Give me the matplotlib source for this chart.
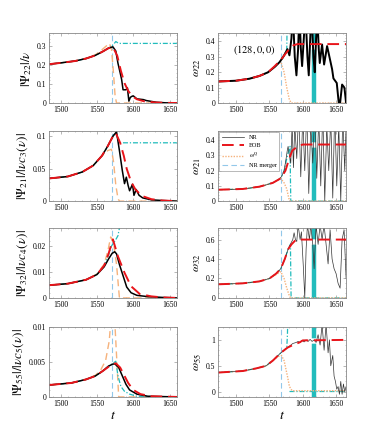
#EOB vs NR waveforms, (128,0,0) configuration
import numpy as np
import matplotlib.pyplot as plt

plt.rcParams['font.family'] = ['Liberation Serif', 'DejaVu Serif']
plt.rcParams['mathtext.fontset'] = 'stix'

#Colours
c_nr = 'black'
c_eob = '#e8141a'
c_q = '#f6b27c'
c_cy = '#22bcbc'
c_mrg = '#92c8ea'

t_merger_left = 1571
t_merger_right = 1567
t_bar = 1616.5

#---------------- |Psi_22|/nu
t_a22_nr = [1484, 1500, 1520, 1535, 1548, 1558, 1566, 1572, 1576, 1579, 1582, 1584, 1586, 1590, 1592, 1594, 1596, 1598, 1600, 1605, 1614, 1618, 1632, 1645, 1660]
a22_nr = [0.205, 0.212, 0.222, 0.235, 0.252, 0.272, 0.29, 0.297, 0.275, 0.21, 0.16, 0.125, 0.07, 0.07, 0.08, 0.01, 0.03, 0.035, 0.038, 0.022, 0.018, 0.013, 0.004, 0.001, 0.0]
t_a22_eob = [1484, 1500, 1520, 1535, 1548, 1558, 1566, 1572, 1578, 1583, 1588, 1593, 1598, 1605, 1615, 1630, 1645, 1660]
a22_eob = [0.205, 0.212, 0.222, 0.235, 0.252, 0.272, 0.29, 0.296, 0.25, 0.17, 0.105, 0.065, 0.038, 0.02, 0.009, 0.003, 0.001, 0.0]
t_a22_q = [1484, 1500, 1520, 1535, 1548, 1558, 1564, 1567, 1570, 1573, 1575, 1577, 1580, 1660]
a22_q = [0.205, 0.212, 0.222, 0.236, 0.255, 0.285, 0.305, 0.315, 0.29, 0.15, 0.04, 0.0, 0.0, 0.0]
t_a22_cy = [1484, 1500, 1520, 1535, 1548, 1558, 1566, 1570, 1573, 1576, 1580, 1600, 1660]
a22_cy = [0.205, 0.212, 0.222, 0.235, 0.252, 0.272, 0.29, 0.3, 0.31, 0.325, 0.315, 0.315, 0.315]

#---------------- omega_22
t_w22_nr = [1473, 1500, 1520, 1535, 1548, 1558, 1565, 1570, 1574, 1577, 1580, 1583, 1585, 1588, 1590.5, 1593, 1595, 1597, 1599, 1602, 1604, 1607, 1609, 1611, 1613, 1616, 1618, 1620, 1622, 1624, 1625.5, 1629, 1632, 1636.5, 1641.5, 1644, 1646, 1651, 1654, 1656, 1659, 1662.5, 1665]
w22_nr = [0.14, 0.145, 0.158, 0.176, 0.2, 0.235, 0.265, 0.295, 0.325, 0.35, 0.31, 0.42, 0.6, 0.3, 0.18, 0.35, 0.6, 0.36, 0.24, 0.45, 0.6, 0.3, 0.18, 0.4, 0.6, 0.3, 0.2, 0.42, 0.55, 0.35, 0.26, 0.38, 0.25, 0.37, 0.27, 0.22, 0.16, 0.13, 0.0, 0.0, 0.12, 0.1, 0.0]
t_w22_eob = [1473, 1500, 1520, 1535, 1548, 1558, 1567, 1574, 1580, 1586, 1592, 1665]
w22_eob = [0.14, 0.145, 0.158, 0.176, 0.2, 0.24, 0.28, 0.32, 0.352, 0.375, 0.383, 0.383]
t_w22_q = [1473, 1500, 1520, 1535, 1548, 1558, 1567, 1572, 1576, 1580, 1583, 1665]
w22_q = [0.14, 0.145, 0.158, 0.176, 0.2, 0.235, 0.27, 0.2, 0.1, 0.02, 0.0, 0.0]
t_w22_cy = [1473, 1500, 1520, 1535, 1548, 1558, 1567, 1572, 1576, 1576.5, 1577]
w22_cy = [0.14, 0.145, 0.158, 0.176, 0.2, 0.235, 0.275, 0.31, 0.35, 0.5, 0.6]

#---------------- |Psi_21|/|nu c_3|
t_a21_nr = [1484, 1510, 1530, 1545, 1557, 1565, 1572, 1577, 1581, 1585, 1588, 1590.5, 1593, 1595, 1599, 1601, 1604, 1608, 1613, 1625, 1640, 1660]
a21_nr = [0.035, 0.038, 0.045, 0.055, 0.07, 0.085, 0.1, 0.107, 0.078, 0.047, 0.027, 0.037, 0.024, 0.016, 0.026, 0.009, 0.018, 0.009, 0.005, 0.002, 0.001, 0.0]
t_a21_eob = [1484, 1510, 1530, 1545, 1557, 1565, 1572, 1576, 1582, 1587, 1591, 1597, 1603, 1612, 1625, 1640, 1660]
a21_eob = [0.035, 0.038, 0.045, 0.055, 0.07, 0.085, 0.1, 0.105, 0.09, 0.07, 0.05, 0.03, 0.018, 0.008, 0.003, 0.001, 0.0]
t_a21_q = [1484, 1510, 1530, 1545, 1557, 1565, 1570, 1573, 1576, 1579, 1581, 1660]
a21_q = [0.035, 0.038, 0.045, 0.055, 0.07, 0.078, 0.08, 0.06, 0.025, 0.004, 0.0, 0.0]
t_a21_cy = [1484, 1510, 1530, 1545, 1557, 1565, 1572, 1575, 1579, 1582, 1600, 1660]
a21_cy = [0.035, 0.038, 0.045, 0.055, 0.07, 0.085, 0.1, 0.105, 0.097, 0.09, 0.09, 0.09]

#---------------- omega_21
t_w21_nr = [1473, 1500, 1520, 1540, 1555, 1563, 1568, 1572, 1575, 1577, 1578, 1580, 1582, 1584, 1586, 1588, 1591, 1594, 1597, 1600, 1603, 1606, 1609, 1612, 1615, 1618, 1621, 1624, 1627, 1630, 1633, 1636, 1639, 1642, 1645, 1648, 1651, 1654, 1657, 1660, 1663, 1665]
w21_nr = [0.075, 0.078, 0.085, 0.1, 0.12, 0.14, 0.16, 0.2, 0.28, 0.34, 0.36, 0.3, 0.25, 0.5, 0.22, 0.5, 0.28, 0.6, 0.16, 0.55, 0.2, 0.6, 0.05, 0.5, 0.25, 0.6, 0.15, 0.55, 0.1, 0.6, 0.0, 0.5, 0.2, 0.55, 0.02, 0.6, 0.1, 0.5, 0.0, 0.55, 0.2, 0.5]
t_w21_eob = [1473, 1510, 1535, 1555, 1567, 1574, 1579, 1584, 1592, 1600, 1665]
w21_eob = [0.075, 0.08, 0.095, 0.12, 0.15, 0.2, 0.27, 0.33, 0.36, 0.372, 0.372]
t_w21_q = [1473, 1510, 1535, 1555, 1567, 1572, 1576, 1579, 1581, 1665]
w21_q = [0.075, 0.08, 0.095, 0.12, 0.15, 0.12, 0.08, 0.02, 0.0, 0.0]
t_w21_cy = [1473, 1510, 1535, 1555, 1567, 1572, 1577, 1581, 1581.5, 1582, 1665]
w21_cy = [0.075, 0.08, 0.095, 0.12, 0.15, 0.2, 0.3, 0.36, 0.15, 0.0, 0.0]

#---------------- |Psi_32|/|nu c_4|
t_a32_nr = [1484, 1510, 1535, 1550, 1560, 1566, 1571, 1574.5, 1577, 1581, 1587, 1591, 1597, 1605, 1620, 1640, 1660]
a32_nr = [0.0049, 0.0055, 0.007, 0.009, 0.012, 0.015, 0.0172, 0.0178, 0.017, 0.0129, 0.0077, 0.0042, 0.002, 0.001, 0.0005, 0.0002, 0.0]
t_a32_eob = [1484, 1510, 1535, 1550, 1560, 1566, 1572, 1579, 1588, 1597, 1609, 1625, 1640, 1660]
a32_eob = [0.0049, 0.0055, 0.007, 0.009, 0.0125, 0.017, 0.0226, 0.016, 0.0097, 0.0045, 0.0015, 0.0006, 0.0002, 0.0]
t_a32_q = [1484, 1510, 1535, 1550, 1560, 1565, 1569, 1573, 1577, 1581, 1660]
a32_q = [0.0049, 0.0055, 0.007, 0.0092, 0.013, 0.018, 0.0235, 0.021, 0.013, 0.0, 0.0]
t_a32_cy = [1484, 1510, 1535, 1550, 1560, 1566, 1570, 1575, 1579, 1581, 1582]
a32_cy = [0.0049, 0.0055, 0.007, 0.009, 0.0125, 0.0165, 0.02, 0.022, 0.024, 0.027, 0.03]

#---------------- omega_32
t_w32_nr = [1473, 1510, 1535, 1550, 1560, 1567, 1573, 1578, 1582, 1585, 1587, 1589, 1591, 1593, 1596, 1598, 1601, 1603, 1605, 1607, 1610, 1612, 1615, 1617, 1620, 1623, 1626, 1629, 1632, 1635, 1638, 1641, 1644, 1647, 1650, 1653, 1656, 1659, 1662, 1665]
w32_nr = [0.14, 0.15, 0.17, 0.2, 0.25, 0.3, 0.4, 0.5, 0.56, 0.6, 0.67, 0.6, 0.58, 0.75, 0.6, 0.68, 0.3, 0.0, 0.5, 0.75, 0.6, 0.75, 0.55, 0.3, 0.75, 0.55, 0.75, 0.6, 0.75, 0.55, 0.35, 0.7, 0.4, 0.3, 0.25, 0.15, 0.1, 0.6, 0.7, 0.2]
t_w32_eob = [1473, 1510, 1535, 1550, 1560, 1567, 1573, 1578, 1583, 1590, 1665]
w32_eob = [0.14, 0.15, 0.17, 0.2, 0.25, 0.3, 0.4, 0.5, 0.55, 0.6, 0.6]
t_w32_q = [1473, 1510, 1535, 1550, 1560, 1567, 1572, 1576, 1580, 1582, 1665]
w32_q = [0.14, 0.15, 0.17, 0.2, 0.24, 0.27, 0.2, 0.1, 0.02, 0.0, 0.0]
t_w32_cy = [1473, 1510, 1535, 1550, 1560, 1567, 1573, 1578, 1581.5, 1582, 1582.5, 1665]
w32_cy = [0.14, 0.15, 0.17, 0.2, 0.25, 0.3, 0.4, 0.5, 0.55, 0.25, 0.0, 0.0]

#---------------- |Psi_55|/|nu c_5|
t_a55_nr = [1484, 1515, 1535, 1548, 1558, 1566, 1572, 1575, 1580, 1585, 1590, 1595, 1605, 1620, 1660]
a55_nr = [0.0017, 0.002, 0.0025, 0.003, 0.0037, 0.0044, 0.0047, 0.0047, 0.0042, 0.003, 0.0018, 0.001, 0.0004, 0.0001, 0.0]
t_a55_eob = [1484, 1515, 1535, 1548, 1558, 1566, 1572, 1576, 1582, 1587, 1593, 1600, 1610, 1625, 1660]
a55_eob = [0.0017, 0.002, 0.0025, 0.003, 0.0037, 0.0043, 0.0047, 0.0048, 0.0042, 0.0032, 0.002, 0.001, 0.0004, 0.0001, 0.0]
t_a55_q = [1484, 1515, 1535, 1548, 1555, 1562, 1567, 1570, 1574, 1577, 1580, 1660]
a55_q = [0.0017, 0.002, 0.0025, 0.0031, 0.0038, 0.0052, 0.008, 0.012, 0.012, 0.006, 0.0, 0.0]
t_a55_cy = [1484, 1515, 1535, 1548, 1558, 1566, 1572, 1576, 1579, 1583, 1588, 1595, 1605, 1660]
a55_cy = [0.0017, 0.002, 0.0025, 0.003, 0.0037, 0.0044, 0.0048, 0.0051, 0.003, 0.0015, 0.0008, 0.0004, 0.0001, 0.0]

#---------------- omega_55
t_w55_nr = [1473, 1510, 1530, 1545, 1555, 1563, 1567, 1572, 1577, 1580, 1585, 1590, 1593, 1596, 1599, 1602, 1605, 1608, 1611, 1614, 1617, 1620, 1623, 1626, 1629, 1632, 1635, 1638, 1640, 1642, 1645, 1647, 1649, 1651, 1653, 1655, 1657, 1659, 1661, 1663, 1665]
w55_nr = [0.37, 0.4, 0.45, 0.5, 0.6, 0.7, 0.75, 0.8, 0.85, 0.88, 0.93, 0.95, 0.97, 0.95, 0.99, 0.96, 1.0, 0.97, 1.01, 0.97, 1.0, 0.95, 1.1, 0.9, 1.3, 0.8, 1.3, 0.75, 1.0, 0.5, 0.7, 0.3, 0.2, 0.05, 0.1, -0.05, 0.2, -0.05, 0.15, 0.0, 0.1]
t_w55_eob = [1473, 1510, 1530, 1545, 1555, 1563, 1567, 1572, 1577, 1585, 1595, 1600, 1665]
w55_eob = [0.37, 0.4, 0.45, 0.5, 0.6, 0.7, 0.75, 0.8, 0.85, 0.9, 0.95, 0.99, 1.0]
t_w55_q = [1473, 1510, 1530, 1545, 1555, 1563, 1568, 1572, 1577, 1580, 1584, 1665]
w55_q = [0.37, 0.4, 0.45, 0.5, 0.6, 0.68, 0.7, 0.6, 0.3, 0.1, 0.02, 0.02]
t_w55_cy = [1473, 1510, 1530, 1545, 1555, 1563, 1567, 1572, 1576, 1577, 1577.5]
w55_cy = [0.37, 0.4, 0.45, 0.5, 0.6, 0.7, 0.75, 0.8, 0.85, 1.1, 1.4]
t_w55_cy0 = [1580, 1665]
w55_cy0 = [0.02, 0.02]

fig = plt.figure(figsize=(3.82, 4.46), dpi=100)

rows_bottom = [0.769, 0.549, 0.332, 0.110]
h = 0.157
w = 0.335
x_left = 0.128
x_right = 0.571

def style(ax, xlim, ylim, yticks):
	ax.set_xlim(*xlim)
	ax.set_ylim(*ylim)
	ax.set_xticks([1500, 1550, 1600, 1650])
	ax.set_yticks(yticks)
	ax.minorticks_on()
	ax.tick_params(which='both', direction='in', top=True, right=True, labelsize=5.5, color='#999999', pad=2)
	ax.tick_params(which='major', length=2, width=0.5)
	ax.tick_params(which='minor', length=1, width=0.4)
	for s in ax.spines.values():
		s.set_color('#888888')
		s.set_linewidth(0.6)

#Left column: amplitudes
left_data = [
	(t_a22_nr, a22_nr, t_a22_eob, a22_eob, t_a22_q, a22_q, t_a22_cy, a22_cy, (0, 0.37), [0, 0.1, 0.2, 0.3], ['0', '0.1', '0.2', '0.3'], r'$|\Psi_{22}|/\nu$'),
	(t_a21_nr, a21_nr, t_a21_eob, a21_eob, t_a21_q, a21_q, t_a21_cy, a21_cy, (0, 0.108), [0, 0.05, 0.1], ['0', '0.05', '0.1'], r'$|\Psi_{21}|/|\nu c_3(\nu)|$'),
	(t_a32_nr, a32_nr, t_a32_eob, a32_eob, t_a32_q, a32_q, t_a32_cy, a32_cy, (0, 0.027), [0, 0.01, 0.02], ['0', '0.01', '0.02'], r'$|\Psi_{32}|/|\nu c_4(\nu)|$'),
	(t_a55_nr, a55_nr, t_a55_eob, a55_eob, t_a55_q, a55_q, t_a55_cy, a55_cy, (0, 0.01), [0, 0.005, 0.01], ['0', '0.005', '0.01'], r'$|\Psi_{55}|/|\nu c_5(\nu)|$'),
]

for i, d in enumerate(left_data):
	ax = fig.add_axes([x_left, rows_bottom[i], w, h])
	ax.axvline(t_merger_left, color=c_mrg, ls=(0, (5, 3)), lw=0.8)
	ax.plot(d[4], d[5], color=c_q, ls=(0, (5, 3)), lw=1.0)
	ax.plot(d[6], d[7], color=c_cy, ls=(0, (4, 1.5, 1, 1.5)), lw=0.9)
	ax.plot(d[0], d[1], color=c_nr, lw=1.1)
	ax.plot(d[2], d[3], color=c_eob, ls=(0, (6, 3)), lw=1.4)
	style(ax, (1484, 1660), d[8], d[9])
	ax.set_yticklabels(d[10])
	ax.set_ylabel(d[11], fontsize=9.5, labelpad=2)
	if i == 3:
		ax.set_xlabel(r'$t$', fontsize=10, labelpad=1)

#Right column: frequencies
right_data = [
	(t_w22_nr, w22_nr, t_w22_eob, w22_eob, t_w22_q, w22_q, t_w22_cy, w22_cy, (0, 0.455), [0, 0.1, 0.2, 0.3, 0.4], ['0', '0.1', '0.2', '0.3', '0.4'], r'$\omega_{22}$', 1.4),
	(t_w21_nr, w21_nr, t_w21_eob, w21_eob, t_w21_q, w21_q, t_w21_cy, w21_cy, (0, 0.46), [0, 0.1, 0.2, 0.3, 0.4], ['0', '0.1', '0.2', '0.3', '0.4'], r'$\omega_{21}$', 0.5),
	(t_w32_nr, w32_nr, t_w32_eob, w32_eob, t_w32_q, w32_q, t_w32_cy, w32_cy, (0, 0.72), [0, 0.2, 0.4, 0.6], ['0', '0.2', '0.4', '0.6'], r'$\omega_{32}$', 0.5),
	(t_w55_nr, w55_nr, t_w55_eob, w55_eob, t_w55_q, w55_q, t_w55_cy, w55_cy, (-0.1, 1.25), [0, 0.5, 1], ['0', '0.5', '1'], r'$\omega_{55}$', 0.5),
]

for i, d in enumerate(right_data):
	ax = fig.add_axes([x_right, rows_bottom[i], w, h])
	ax.axvline(t_merger_right, color=c_mrg, ls=(0, (5, 3)), lw=0.8, label='NR merger')
	ax.axvline(t_bar, color=c_cy, ls=(0, (12, 1.2)), lw=3.2)
	ax.plot(d[6], d[7], color=c_cy, ls=(0, (4, 1.5, 1, 1.5)), lw=0.9)
	if i == 3:
		ax.plot(t_w55_cy0, w55_cy0, color=c_cy, ls=(0, (4, 1.5, 1, 1.5)), lw=0.9)
	ax.plot(d[4], d[5], color=c_q, ls=(0, (1, 1)), lw=1.0, label=r'$\omega^{\rm Q}$')
	ax.plot(d[0], d[1], color=c_nr if i == 0 else '#333333', lw=d[12], label='NR')
	ax.plot(d[2], d[3], color=c_eob, ls=(0, (6, 3)), lw=1.4, label='EOB')
	style(ax, (1473, 1665), d[8], d[9])
	ax.set_yticklabels(d[10])
	ax.set_ylabel(d[11], fontsize=8.5, labelpad=2)
	if i == 0:
		ax.text(0.12, 0.72, r'$(128,0,0)$', transform=ax.transAxes, fontsize=7.5)
	if i == 1:
		hd, lb = ax.get_legend_handles_labels()
		order = [2, 3, 1, 0]
		leg = ax.legend([hd[k] for k in order], [lb[k] for k in order], loc='upper left', fontsize=4.5, frameon=True, fancybox=False, borderaxespad=0.2, handlelength=3.5, labelspacing=0.4)
		leg.get_frame().set_edgecolor('#999999')
		leg.get_frame().set_linewidth(0.6)
	if i == 3:
		ax.set_xlabel(r'$t$', fontsize=10, labelpad=1)

fig.savefig('out.png', dpi=100)
